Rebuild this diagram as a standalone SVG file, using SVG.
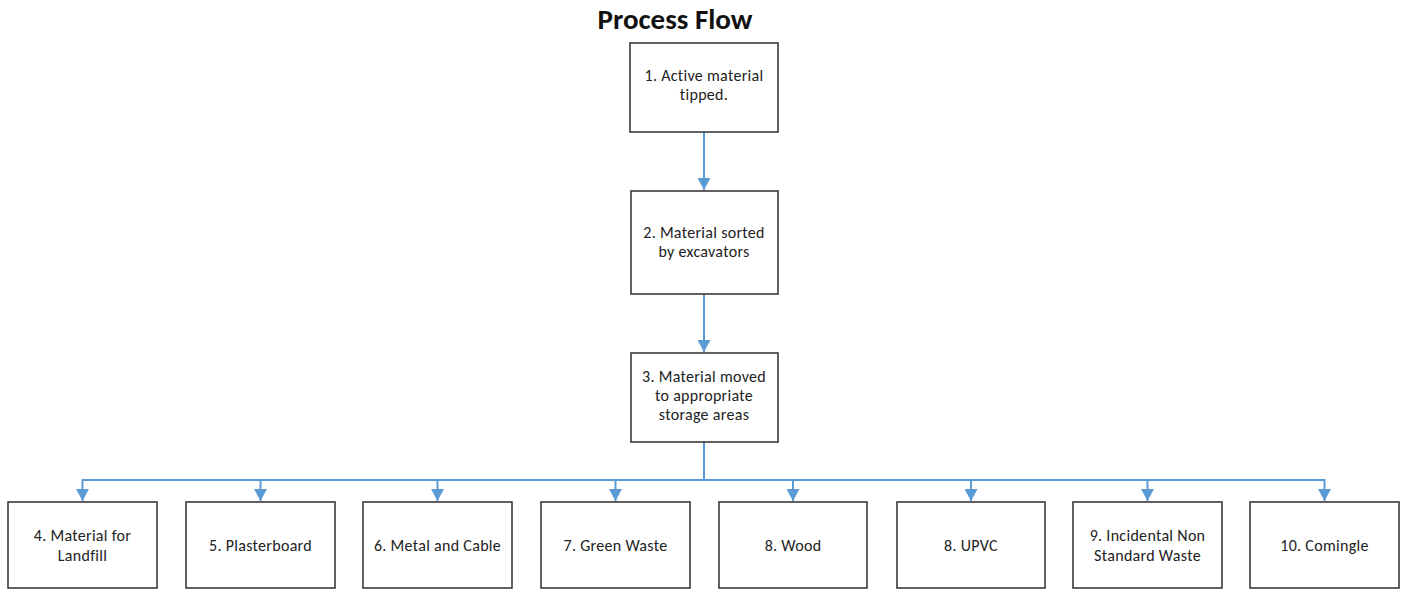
<svg xmlns="http://www.w3.org/2000/svg" width="1405" height="590" viewBox="0 0 1405 590">
<defs>
<style>
.box{fill:#fff;stroke:#3a3a3a;stroke-width:1.6}
.t{font-family:Carlito,"Open Sans","Liberation Sans",sans-serif;font-size:16px;letter-spacing:0.3px;fill:#222;text-anchor:middle}
.title{font-family:Carlito,"Open Sans","Liberation Sans",sans-serif;font-size:29px;font-weight:bold;fill:#111;text-anchor:middle}
.c{fill:none;stroke:#5B9BD5;stroke-width:2}
</style>
<marker id="ah" markerWidth="13" markerHeight="13" viewBox="0 0 12 13" refX="12" refY="6.5" orient="auto" markerUnits="userSpaceOnUse">
<path d="M0,0 L12,6.5 L0,13 z" fill="#5B9BD5"/>
</marker>
</defs>
<rect width="1405" height="590" fill="#fff"/>
<text class="title" x="675" y="29">Process Flow</text>
<g id="connectors">
<line class="c" x1="704" y1="132" x2="704" y2="190" marker-end="url(#ah)"/>
<line class="c" x1="704" y1="294" x2="704" y2="352" marker-end="url(#ah)"/>
<path class="c" d="M704,442 V480"/>
<path class="c" d="M82.5,480 H1324.5"/>
<line class="c" x1="82.5" y1="479" x2="82.5" y2="501" marker-end="url(#ah)"/>
<line class="c" x1="260.5" y1="479" x2="260.5" y2="501" marker-end="url(#ah)"/>
<line class="c" x1="437.5" y1="479" x2="437.5" y2="501" marker-end="url(#ah)"/>
<line class="c" x1="615.5" y1="479" x2="615.5" y2="501" marker-end="url(#ah)"/>
<line class="c" x1="793" y1="479" x2="793" y2="501" marker-end="url(#ah)"/>
<line class="c" x1="971" y1="479" x2="971" y2="501" marker-end="url(#ah)"/>
<line class="c" x1="1147.5" y1="479" x2="1147.5" y2="501" marker-end="url(#ah)"/>
<line class="c" x1="1324.5" y1="479" x2="1324.5" y2="501" marker-end="url(#ah)"/>
</g>
<g id="n1"><rect class="box" x="630" y="43" width="148" height="89"/><text class="t" x="704" y="81">1. Active material</text><text class="t" x="704" y="100">tipped.</text></g>
<g id="n2"><rect class="box" x="631" y="191" width="147" height="103"/><text class="t" x="704" y="238">2. Material sorted</text><text class="t" x="704" y="257">by excavators</text></g>
<g id="n3"><rect class="box" x="631" y="353" width="147" height="89"/><text class="t" x="704" y="382">3. Material moved</text><text class="t" x="704" y="401">to appropriate</text><text class="t" x="704" y="420">storage areas</text></g>
<g id="n4"><rect class="box" x="8" y="502" width="149" height="86"/><text class="t" x="82.5" y="541">4. Material for</text><text class="t" x="82.5" y="561">Landfill</text></g>
<g id="n5"><rect class="box" x="186" y="502" width="149" height="86"/><text class="t" x="260.5" y="551">5. Plasterboard</text></g>
<g id="n6"><rect class="box" x="363" y="502" width="149" height="86"/><text class="t" x="437.5" y="551">6. Metal and Cable</text></g>
<g id="n7"><rect class="box" x="541" y="502" width="149" height="86"/><text class="t" x="615.5" y="551">7. Green Waste</text></g>
<g id="n8"><rect class="box" x="719" y="502" width="148" height="86"/><text class="t" x="793" y="551">8. Wood</text></g>
<g id="n8b"><rect class="box" x="897" y="502" width="148" height="86"/><text class="t" x="971" y="551">8. UPVC</text></g>
<g id="n9"><rect class="box" x="1073" y="502" width="149" height="86"/><text class="t" x="1147.5" y="541">9. Incidental Non</text><text class="t" x="1147.5" y="561">Standard Waste</text></g>
<g id="n10"><rect class="box" x="1250" y="502" width="149" height="86"/><text class="t" x="1324.5" y="551">10. Comingle</text></g>
</svg>
